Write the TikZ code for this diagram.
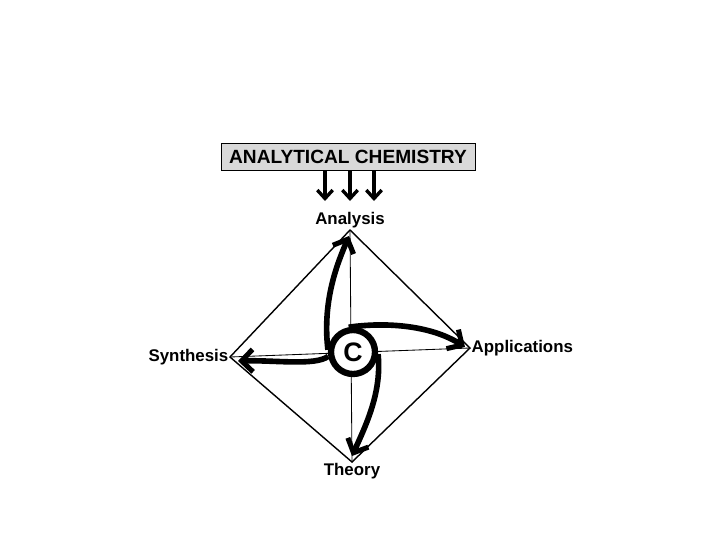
\documentclass[tikz,border=0pt]{standalone}
\usepackage{fontspec}
\setmainfont{Liberation Sans}
\usetikzlibrary{arrows.meta}
\tikzset{
  lbl/.style={font=\fontsize{12}{14}\selectfont\bfseries, inner sep=1pt},
  swirl/.style={line width=4pt, -{Straight Barb[length=8pt,width=16pt,line width=3.6pt]}},
  feed/.style={line width=2.6pt, -{Straight Barb[length=6pt,width=11pt,line width=2.4pt]}}
}
\begin{document}
\begin{tikzpicture}[x=0.025cm, y=-0.025cm]
  \useasboundingbox (0,0) rectangle (720,540);
  \node[draw, fill=gray!30, line width=0.6pt, minimum width=254*0.025cm, minimum height=27*0.025cm,
        font=\fontsize{13.6}{15}\selectfont\bfseries] (title) at (348,156.5) {ANALYTICAL CHEMISTRY};
  % corners of the diamond
  \coordinate (top) at (350,230);
  \coordinate (right) at (470,348);
  \coordinate (bottom) at (352,462);
  \coordinate (left) at (230,357);
  \node[lbl, above] (analysis) at (top) {Analysis};
  \node[lbl, left] (synthesis) at (left) {Synthesis};
  \node[lbl, right] (applications) at (right) {Applications};
  \node[lbl, below] (theory) at (bottom) {Theory};
  \draw[line width=1pt] (top) -- (right) -- (bottom) -- (left) -- cycle;
  \draw[line width=0.6pt] (top) -- (bottom);
  \draw[line width=0.6pt] (left) -- (right);
  \node[circle, draw, fill=white, line width=4.5pt, minimum size=44*0.025cm, inner sep=0pt,
        font=\fontsize{19}{21}\selectfont\bfseries] (c) at (353,352) {C};
  % arrows from the box
  \coordinate (f1) at (325,201);
  \coordinate (f2) at (350,201);
  \coordinate (f3) at (374,201);
  \draw[feed] (title.south -| f1) -- (f1);
  \draw[feed] (title.south -| f2) -- (f2);
  \draw[feed] (title.south -| f3) -- (f3);
  % the pinwheel
  \draw[swirl] (c.175) .. controls (322,300) and (338,262) .. (349,236);
  \draw[swirl] (c.100) .. controls (385,322) and (430,325) .. (465,347);
  \draw[swirl] (c.-5) .. controls (382,392) and (366,425) .. (352,456);
  \draw[swirl] (c.190) .. controls (315,366) and (275,360) .. (238,361);
\end{tikzpicture}
\end{document}
